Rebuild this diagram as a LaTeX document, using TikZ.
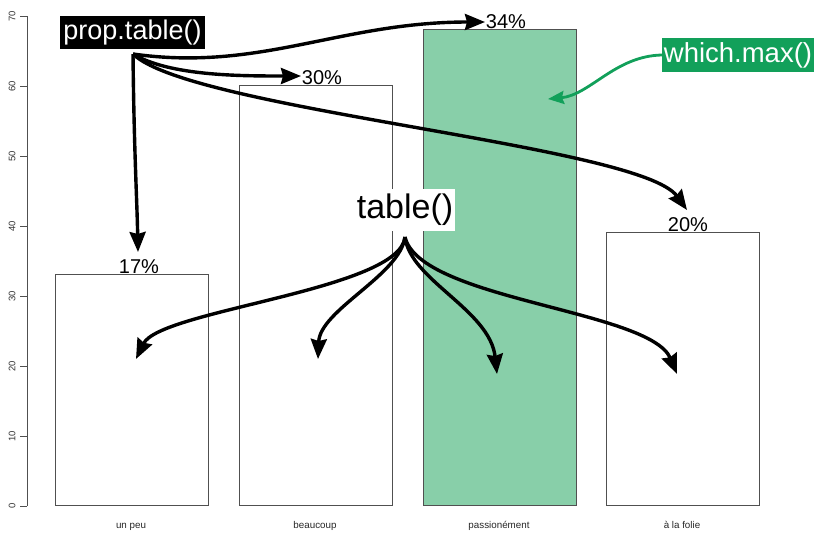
\documentclass[tikz,border=0pt]{standalone}
\usepackage{fontspec}
\setmainfont{Liberation Sans}
\usetikzlibrary{arrows.meta}
\definecolor{barg}{RGB}{136,207,169}
\definecolor{wmg}{RGB}{18,160,90}
\definecolor{axisgray}{RGB}{80,80,80}
\begin{document}
\begin{tikzpicture}[x=1pt,y=-1pt,
  barbox/.style={draw=axisgray,line width=0.8pt,anchor=south west,inner sep=0pt,minimum width=153pt},
  pct/.style={font=\fontsize{20}{20}\selectfont,anchor=base,inner sep=0pt},
  cat/.style={font=\fontsize{9.8}{9.8}\selectfont,inner sep=0pt,anchor=base,text=black!85},
  ticklab/.style={font=\fontsize{9.5}{9.5}\selectfont,rotate=90,inner sep=0pt,text=black!80},
  bigarrow/.style={line width=3.4pt,-{Stealth[length=20pt,width=16pt,inset=2pt]}},
  greenarrow/.style={draw=wmg,line width=2.8pt,-{Stealth[length=16pt,width=13pt,inset=2pt]}}]
\useasboundingbox (0,0) rectangle (816,533);
% axis
\draw[axisgray,line width=0.8pt] (27,506) -- (27,16);
\foreach \v in {0,...,7}{
  \pgfmathsetmacro{\yy}{506-70*\v}
  \draw[axisgray,line width=0.8pt] (20,\yy) -- (27,\yy);
  \node[ticklab] (tk\v) at (12,\yy) {\pgfmathparse{int(10*\v)}\pgfmathresult};
}
% bars
\node[barbox,minimum height=231pt] (b1) at (55,506) {};
\node[barbox,minimum height=420pt] (b2) at (239,506) {};
\node[barbox,fill=barg,minimum height=476pt] (b3) at (423,506) {};
\node[barbox,minimum height=273pt] (b4) at (606,506) {};
% category labels
\node[cat] (c1) at (131,528) {un peu};
\node[cat] (c2) at (315,528) {beaucoup};
\node[cat] (c3) at (499,528) {passionément};
\node[cat] (c4) at (682,528) {à la folie};
% percentages
\node[pct] (p17) at (139,273) {17\%};
\node[pct] (p30) at (322,84) {30\%};
\node[pct] (p34) at (506,28) {34\%};
\node[pct] (p20) at (688,231) {20\%};
% labelled boxes
\node[fill=black,text=white,inner sep=0pt,minimum width=145pt,minimum height=33pt,
  font=\fontsize{27}{27}\selectfont] (prop) at (132.5,32.5) {prop.table()};
\node[fill=white,text=black,inner sep=0pt,minimum width=100pt,minimum height=42pt,
  font=\fontsize{34}{34}\selectfont] (tab) at (405,210) {table()};
\node[fill=wmg,text=white,inner sep=0pt,minimum width=152pt,minimum height=34pt,
  font=\fontsize{27.5}{27.5}\selectfont] (wm) at (738,55) {which.max()};
% arrow end points
\coordinate (ps) at (133,54);
\coordinate (ts) at (405,237);
\coordinate (t17) at (138,252);
\coordinate (t30) at (301,76);
\coordinate (t34) at (485,22);
\coordinate (t20) at (687,210);
\coordinate (ta) at (136,359);
\coordinate (tb) at (318,359);
\coordinate (tc) at (497,374);
\coordinate (td) at (677,374);
\coordinate (tg) at (548,99);
% prop.table arrows
\draw[bigarrow] (ps) .. controls (134,150) and (137,200) .. (t17);
\draw[bigarrow] (ps) .. controls (170,76) and (240,76) .. (t30);
\draw[bigarrow] (ps) .. controls (260,72) and (340,22) .. (t34);
\draw[bigarrow] (ps) .. controls (190,110) and (640,145) .. (t20);
% table arrows
\draw[bigarrow] (ts) .. controls (400,290) and (160,310) .. (ta);
\draw[bigarrow] (ts) .. controls (400,275) and (320,310) .. (tb);
\draw[bigarrow] (ts) .. controls (410,280) and (490,310) .. (tc);
\draw[bigarrow] (ts) .. controls (420,300) and (650,310) .. (td);
% which.max arrow
\draw[greenarrow] (wm.west) .. controls (615,56) and (590,95) .. (tg);
\end{tikzpicture}
\end{document}
